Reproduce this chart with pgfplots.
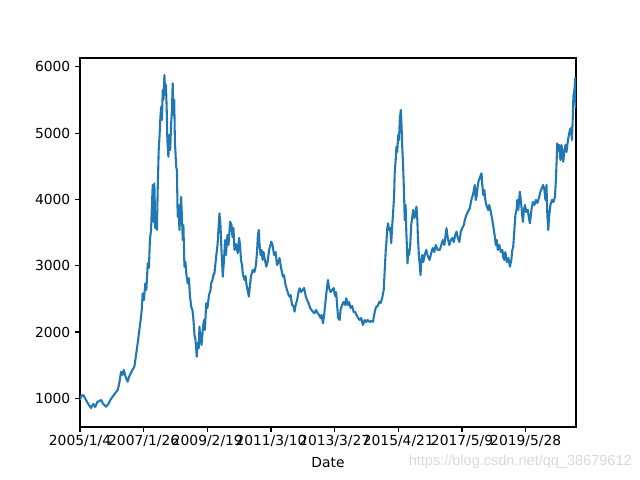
\documentclass[border=0pt]{standalone}
\usepackage{pgfplots}
\pgfplotsset{compat=1.18}
\usepackage{fontspec}
\setmainfont{DejaVu Sans}
\newfontfamily\wmfont{Liberation Sans}
\definecolor{mplblue}{HTML}{1F77B4}
\begin{document}
\fontsize{10}{12}\selectfont
\begin{tikzpicture}
\begin{axis}[
  scale only axis,
  width=4.96in, height=3.69in,
  xmin=0, xmax=3895, ymin=567, ymax=6132,
  axis line style={line width=0.8pt},
  tick style={line width=0.8pt, black},
  major tick length=3.5pt,
  tick align=outside,
  xtick pos=bottom, ytick pos=left,
  xtick={0,500,1000,1500,2000,2500,3000,3500},
  xticklabels={2005/1/4,2007/1/26,2009/2/19,2011/3/10,2013/3/27,2015/4/21,2017/5/9,2019/5/28},
  ytick={1000,2000,3000,4000,5000,6000},
  /pgf/number format/1000 sep={},
  /pgf/number format/assume math mode=true,
  scaled y ticks=false,
  xticklabel style={font=\fontsize{10}{12}\selectfont, yshift=1pt},
  yticklabel style={font=\fontsize{10}{12}\selectfont},
  xlabel={Date},
  xlabel style={at={(axis description cs:0.5,-0.095)}, anchor=center, font=\fontsize{10}{12}\selectfont},
  clip=true,
]
\addplot[mplblue, line width=1.5pt, line join=round] coordinates {
(0,974)(10,1035)(26,1050)(47,974)(65,914)(86,854)(105,914)(120,869)(136,944)(165,974)
(183,914)(204,873)(223,914)(238,974)(256,1024)(278,1080)(296,1125)(309,1231)(322,1401)(333,1351)
(344,1427)(356,1336)(374,1250)(388,1336)(411,1427)(427,1477)(453,1829)(466,2030)(478,2211)(486,2362)
(492,2583)(502,2482)(513,2734)(521,2633)(532,3036)(541,2965)(549,3387)(558,3538)(565,3915)(571,4216)
(579,3659)(584,4242)(591,3568)(598,3764)(604,3538)(610,4141)(618,4744)(625,4971)(631,5227)(637,5397)
(643,5197)(650,5649)(655,5499)(663,5877)(669,5574)(675,5725)(681,5348)(686,4895)(694,4643)(702,4971)
(708,4744)(716,5147)(722,5348)(728,5750)(734,5272)(740,5499)(745,4895)(755,4493)(761,4443)(767,3739)
(773,3915)(781,3538)(789,3840)(794,4040)(800,3764)(807,3387)(812,3613)(820,2985)(828,3055)(836,2859)
(846,2734)(855,2814)(863,2558)(873,2381)(883,2332)(891,2181)(899,1955)(907,1879)(917,1627)(925,1834)
(933,1759)(938,2080)(946,1909)(954,1804)(964,2030)(973,2181)(981,2030)(991,2433)(1001,2362)(1013,2558)
(1025,2633)(1030,2734)(1040,2784)(1048,2859)(1056,2889)(1069,3135)(1080,3312)(1087,3538)(1095,3790)(1103,3613)
(1111,3236)(1121,2834)(1131,3086)(1139,3387)(1146,3161)(1158,3463)(1166,3312)(1179,3663)(1190,3613)(1197,3432)
(1205,3568)(1213,3236)(1225,3327)(1239,3187)(1249,3417)(1257,3312)(1264,3086)(1272,3011)(1280,2860)(1292,2784)
(1300,2844)(1308,2709)(1316,2633)(1326,2532)(1335,2709)(1343,2844)(1357,2935)(1370,2905)(1382,3010)(1391,3236)
(1397,3463)(1404,3538)(1410,3312)(1418,3161)(1426,3236)(1434,3086)(1441,3206)(1449,3116)(1463,2985)(1473,3055)
(1485,3236)(1496,3312)(1502,3362)(1512,3312)(1524,3161)(1536,3206)(1547,3010)(1559,3055)(1567,3116)(1579,2965)
(1593,2834)(1602,2859)(1614,2709)(1626,2633)(1638,2558)(1646,2532)(1654,2558)(1665,2407)(1677,2392)(1685,2306)
(1693,2407)(1705,2482)(1716,2603)(1724,2659)(1736,2603)(1748,2633)(1760,2663)(1772,2543)(1783,2482)(1795,2437)
(1807,2362)(1818,2332)(1830,2301)(1842,2282)(1854,2332)(1866,2286)(1878,2256)(1889,2211)(1897,2256)(1908,2131)
(1917,2256)(1925,2407)(1933,2558)(1947,2784)(1956,2663)(1968,2603)(1980,2633)(1992,2663)(2003,2543)(2011,2603)
(2019,2407)(2027,2211)(2039,2181)(2046,2332)(2058,2407)(2070,2452)(2082,2407)(2091,2508)(2102,2407)(2113,2452)
(2125,2362)(2137,2392)(2149,2301)(2161,2301)(2172,2256)(2184,2211)(2196,2181)(2208,2211)(2222,2105)(2235,2181)
(2247,2151)(2259,2181)(2275,2151)(2287,2166)(2301,2155)(2310,2256)(2318,2332)(2327,2381)(2338,2392)(2350,2452)
(2361,2437)(2373,2513)(2385,2633)(2393,2935)(2401,3237)(2406,3337)(2412,3538)(2419,3639)(2428,3538)(2436,3568)
(2444,3342)(2452,3613)(2460,3840)(2467,4066)(2471,4393)(2479,4594)(2485,4794)(2491,4714)(2499,4971)(2505,4895)
(2511,5197)(2519,5348)(2525,5121)(2530,4820)(2537,4518)(2542,4242)(2546,3991)(2550,3689)(2557,3915)(2562,3538)
(2568,3237)(2572,3036)(2578,3237)(2584,3161)(2593,3312)(2601,3613)(2616,3840)(2625,3719)(2633,3764)(2642,3890)
(2649,3689)(2653,3463)(2661,3161)(2668,3010)(2674,2859)(2680,3055)(2688,3161)(2696,3055)(2707,3161)(2719,3237)
(2731,3146)(2745,3086)(2758,3191)(2770,3267)(2782,3206)(2794,3312)(2809,3237)(2825,3237)(2837,3312)(2849,3387)
(2861,3312)(2878,3564)(2888,3417)(2900,3312)(2912,3387)(2924,3417)(2935,3357)(2947,3463)(2957,3513)(2967,3417)
(2979,3357)(2990,3508)(3002,3568)(3014,3613)(3022,3689)(3034,3764)(3045,3810)(3061,3865)(3073,3991)(3085,4066)
(3093,4141)(3100,4217)(3108,3991)(3116,4066)(3124,4217)(3132,4292)(3140,4322)(3147,4368)(3153,4393)(3159,4217)
(3167,4066)(3175,4141)(3183,3991)(3191,3915)(3205,3840)(3214,3915)(3226,3810)(3238,3689)(3250,3538)(3258,3437)
(3265,3312)(3273,3387)(3281,3237)(3293,3312)(3305,3206)(3317,3237)(3323,3135)(3332,3086)(3340,3206)(3352,3055)
(3364,3116)(3376,2985)(3387,3086)(3395,3237)(3402,3286)(3411,3538)(3419,3764)(3428,3840)(3434,3991)(3442,3840)
(3454,4116)(3462,3991)(3470,3810)(3478,3659)(3486,3840)(3494,3915)(3505,3810)(3517,3840)(3525,3719)(3533,3639)
(3545,3840)(3556,3960)(3568,3915)(3580,3991)(3592,3945)(3604,4021)(3615,4111)(3627,4172)(3637,4217)(3647,4141)
(3655,3991)(3663,4217)(3670,3764)(3677,3538)(3685,3764)(3694,3915)(3706,3991)(3718,3960)(3730,4040)(3737,4292)
(3748,4845)(3756,4744)(3763,4820)(3773,4594)(3781,4820)(3789,4669)(3795,4568)(3804,4744)(3812,4820)(3820,4714)
(3832,4895)(3839,4971)(3847,5046)(3855,5076)(3863,4895)(3869,5197)(3875,5574)(3879,5599)(3884,5679)(3889,5826)
(3891,5498)(3894,5373)
};
\end{axis}
\node[anchor=east, font=\wmfont\fontsize{10.5}{12}\selectfont, text=black!15, inner sep=0pt]
  at ([xshift=0.56in, yshift=-0.35in]current axis.south east) {https://blog.csdn.net/qq\_38679612};
\path ([xshift=-0.8in, yshift=-0.53in]current axis.south west) rectangle ([xshift=0.64in, yshift=0.58in]current axis.north east);
\end{tikzpicture}
\end{document}
